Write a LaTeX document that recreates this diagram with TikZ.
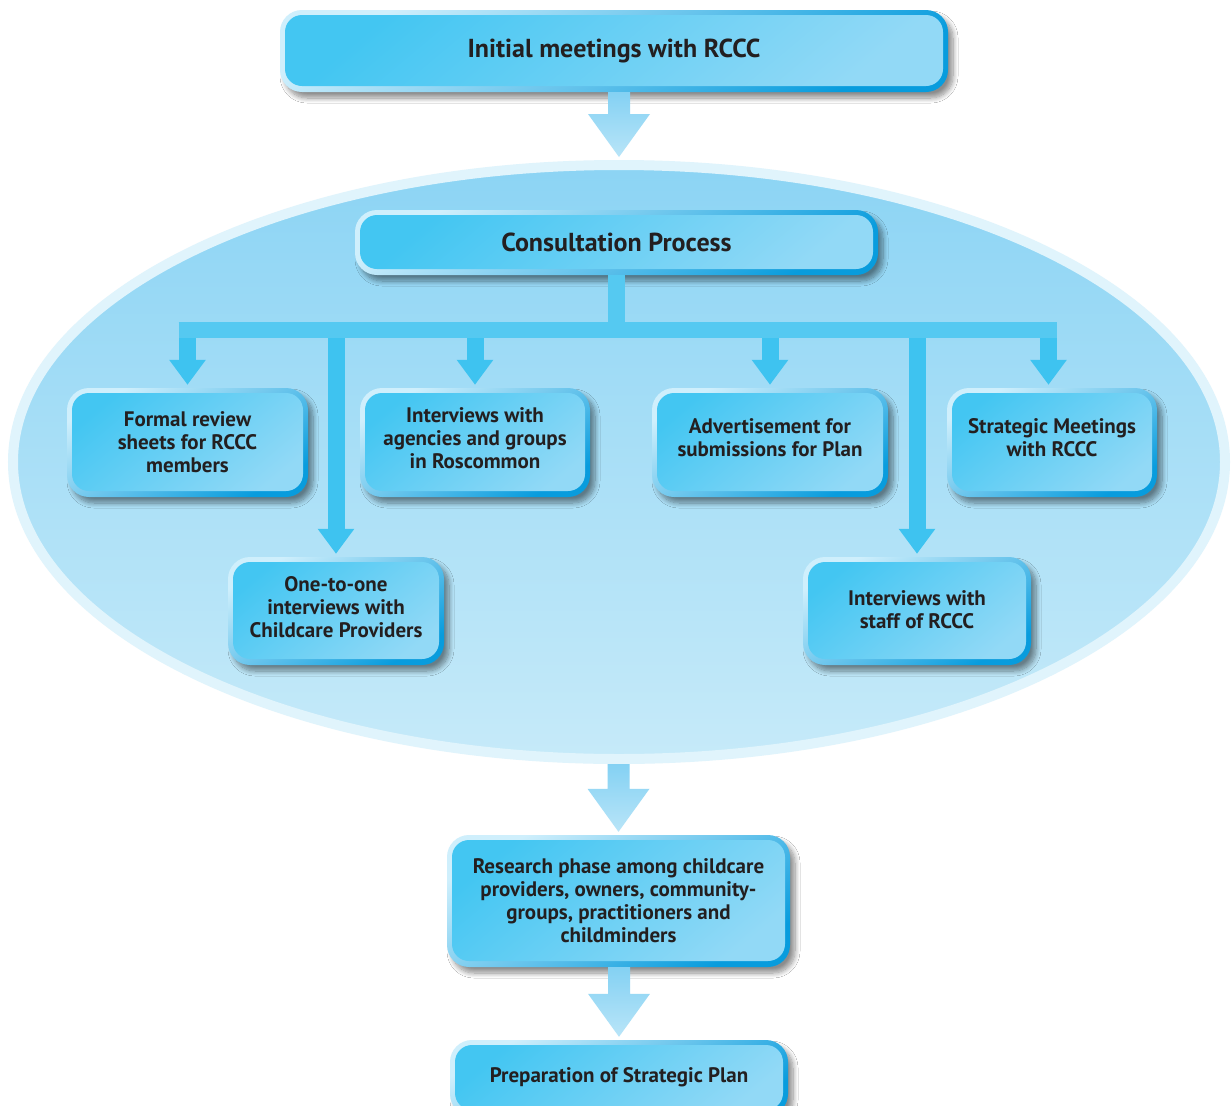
\documentclass[tikz,border=0pt]{standalone}
\usepackage{fontspec}
\setmainfont{PT Sans}
\usetikzlibrary{shapes.geometric,shadows,shadows.blur,calc,arrows.meta}
\definecolor{txt}{HTML}{231F20}
\definecolor{faceA}{HTML}{43C6F2}
\definecolor{faceB}{HTML}{92D9F6}
\definecolor{rimL}{HTML}{CFEFFC}
\definecolor{rimD}{HTML}{089CDD}
\definecolor{ellT}{HTML}{8CD4F4}
\definecolor{ellB}{HTML}{C6EAF9}
\definecolor{ellRim}{HTML}{E0F4FC}
\definecolor{arrC}{HTML}{3EC3F0}
\definecolor{barC}{HTML}{55C9F1}
\definecolor{bigT}{HTML}{84D1F3}
\definecolor{bigB}{HTML}{B9E5F8}
\tikzset{
  box/.style={rectangle, rounded corners=22pt, inner sep=0pt, align=center, text=txt,
    font=\fontsize{21}{23}\selectfont\bfseries,
    top color=rimL, bottom color=rimD, shading angle=30,
    blur shadow={shadow xshift=5pt, shadow yshift=-6pt, shadow blur radius=5pt, shadow blur steps=10, shadow opacity=45},
    path picture={\shade[rounded corners=17pt, top color=faceA, bottom color=faceB, shading angle=40]
      ([xshift=5pt,yshift=-5pt]path picture bounding box.north west) rectangle
      ([xshift=-5pt,yshift=6pt]path picture bounding box.south east);}},
  titlebox/.style={box, font=\fontsize{26}{28}\selectfont\bfseries},
  tarrow/.style={draw=arrC, line width=17pt, -{Triangle[width=35pt,length=25pt]}, shorten >=3pt},
  bigarrow/.style={top color=bigT, bottom color=bigB},
}
\newcommand{\blockarrow}[2]{%
  \shade[bigarrow] let \p1=(#1), \p2=(#2) in
    (\x2-11pt,\y1) -- (\x2+11pt,\y1) -- (\x2+11pt,\y2+46pt) -- (\x2+31pt,\y2+46pt)
    -- (\x2,\y2+3pt) -- (\x2-31pt,\y2+46pt) -- (\x2-11pt,\y2+46pt) -- cycle;}
\begin{document}
\begin{tikzpicture}[x=1pt,y=-1pt]
\clip (0,0) rectangle (1232,1106);
\fill[white] (0,0) rectangle (1232,1106);
% oval
\node[ellipse, minimum width=1212pt, minimum height=594pt, inner sep=0pt,
      draw=ellRim, line width=10pt, top color=ellT, bottom color=ellB] (oval) at (619,462) {};
% boxes
\node[titlebox, minimum width=668pt, minimum height=82pt, text depth=5pt] (init) at (614,51) {Initial meetings with RCCC};
\node[titlebox, minimum width=523pt, minimum height=65pt] (cons) at (616.5,242.5) {Consultation Process};
\node[box, minimum width=241pt, minimum height=109pt] (formal) at (187.5,442.5) {Formal review\\sheets for RCCC\\members};
\node[box, minimum width=230pt, minimum height=109pt, text depth=9pt] (agency) at (475,442.5) {Interviews with\\agencies and groups\\in Roscommon};
\node[box, minimum width=236pt, minimum height=109pt, text depth=10pt] (advert) at (770,442.5) {Advertisement for\\submissions for Plan};
\node[box, minimum width=210pt, minimum height=109pt, text depth=10pt] (strat) at (1052,442.5) {Strategic Meetings\\with RCCC};
\node[box, minimum width=216pt, minimum height=108pt, text depth=8pt] (one) at (336,611) {One-to-one\\interviews with\\Childcare Providers};
\node[box, minimum width=228pt, minimum height=108pt, text depth=3pt] (staff) at (917,611) {Interviews with\\staff of RCCC};
\node[box, minimum width=343pt, minimum height=132pt, text depth=-6pt] (research) at (618.5,901) {Research phase among childcare\\providers, owners, community-\\groups, practitioners and\\childminders};
\node[box, minimum width=338pt, minimum height=76pt, text depth=6pt] (prep) at (619,1078) {Preparation of Strategic Plan};
% tree
\coordinate (hub) at (cons.south |- 0,330);
\draw[barC, line width=17pt] (cons.south) -- (hub);
\draw[barC, line width=16pt] ([xshift=-9pt]formal.north |- hub) -- ([xshift=5pt]strat.north |- hub);
\draw[tarrow] ([yshift=-8pt]formal.north |- hub) -- (formal.north);
\draw[tarrow] ([yshift=-8pt]agency.north |- hub) -- (agency.north);
\draw[tarrow] ([yshift=-8pt]advert.north |- hub) -- (advert.north);
\draw[tarrow] ([xshift=-3.5pt,yshift=-8pt]strat.north |- hub) -- ([xshift=-3.5pt]strat.north);
\draw[tarrow] ([yshift=-8pt]one.north |- hub) -- (one.north);
\draw[tarrow] ([yshift=-8pt]staff.north |- hub) -- (staff.north);
% block arrows
\blockarrow{init.south}{oval.north}
\blockarrow{oval.south}{research.north}
\blockarrow{research.south}{prep.north}
\end{tikzpicture}
\end{document}
